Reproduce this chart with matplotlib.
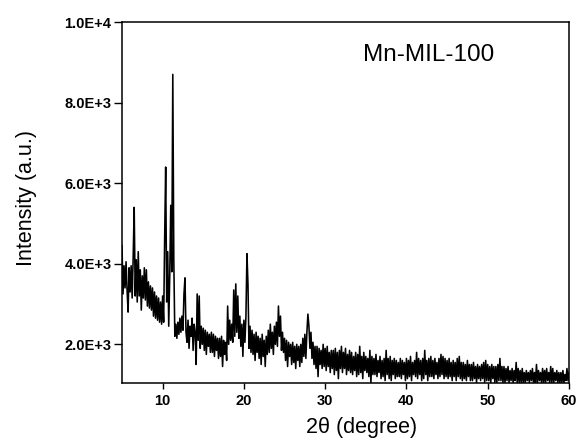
import numpy as np
import matplotlib
matplotlib.use("Agg")
import matplotlib.pyplot as plt

plt.rcParams['font.family'] = ['Liberation Sans', 'DejaVu Sans']

# 2-theta sampling grid (degrees) and intensities
two_theta_start = 5.0
two_theta_step = 0.125
intensity = [
    # 5
    4450, 3250, 3950, 3400, 4050, 3350, 2800, 3900,
    # 6
    3300, 3950, 3150, 4150, 5400, 3200, 4100, 3050,
    # 7
    4300, 3200, 3850, 2850, 3700, 3150, 3900, 3100,
    # 8
    3850, 2950, 3550, 2900, 3450, 2850, 3400, 2700,
    # 9
    3300, 2650, 3200, 2600, 3150, 2550, 3050, 2500,
    # 10
    3200, 2550, 4650, 6400, 3050, 4300, 2450, 3700,
    # 11
    5450, 3800, 8700, 4100, 2200, 2500, 2150, 2550,
    # 12
    2250, 2650, 2300, 2700, 2350, 3250, 3650, 2300,
    # 13
    2050, 2600, 1900, 2450, 2200, 2650, 1850, 2500,
    # 14
    2300, 1500, 3250, 2100, 3200, 1900, 2450, 2000,
    # 15
    2400, 1850, 2350, 1750, 2300, 1950, 2250, 1800,
    # 16
    2300, 1800, 2250, 1700, 2200, 1850, 2150, 1650,
    # 17
    2150, 1700, 2200, 1450, 2100, 1750, 2050, 1600,
    # 18
    2950, 2000, 2600, 2100, 2500, 2050, 3350, 2200,
    # 19
    3500, 2300, 3200, 2150, 2700, 1950, 2500, 1700,
    # 20
    2600, 2050, 2700, 4250, 3500, 1900, 2450, 1800,
    # 21
    2350, 1750, 2250, 1600, 2300, 1800, 2200, 1650,
    # 22
    2150, 1500, 2250, 1700, 2100, 1450, 2200, 1750,
    # 23
    2350, 1800, 2500, 1900, 2300, 1750, 2450, 2000,
    # 24
    2550, 1950, 2950, 2200, 2700, 1850, 2300, 1800,
    # 25
    2150, 1600, 2100, 1450, 2050, 1700, 2000, 1500,
    # 26
    2050, 1550, 1950, 1400, 2000, 1600, 1950, 1450,
    # 27
    2000, 1550, 2150, 1700, 2250, 1650, 2300, 2750,
    # 28
    2450, 1900, 2300, 1650, 2050, 1500, 1950, 1400,
    # 29
    1950, 1200, 1900, 1500, 1850, 1400, 2000, 1450,
    # 30
    1900, 1350, 1950, 1450, 1800, 1300, 1850, 1400,
    # 31
    1850, 1250, 1900, 1350, 1800, 1150, 1850, 1400,
    # 32
    1950, 1300, 1800, 1400, 1900, 1250, 1750, 1350,
    # 33
    1850, 1300, 1800, 1250, 1700, 1350, 1800, 1200,
    # 34
    1750, 1250, 1950, 1300, 1700, 1150, 1800, 1350,
    # 35
    1700, 1300, 1650, 1200, 1850, 1050, 1700, 1250,
    # 36
    1650, 1250, 1750, 1200, 1600, 1300, 1700, 1150,
    # 37
    1600, 1200, 1650, 1100, 1850, 1250, 1650, 1150,
    # 38
    1700, 1100, 1600, 1250, 1650, 1150, 1600, 1200,
    # 39
    1550, 1200, 1650, 1150, 1600, 1250, 1550, 1100,
    # 40
    1650, 1150, 1600, 1200, 1700, 1100, 1550, 1250,
    # 41
    1600, 1200, 1800, 1150, 1650, 1250, 1600, 1100,
    # 42
    1650, 1150, 1850, 1250, 1600, 1100, 1650, 1200,
    # 43
    1700, 1200, 1600, 1150, 1650, 1250, 1550, 1150,
    # 44
    1650, 1200, 1750, 1250, 1700, 1150, 1650, 1200,
    # 45
    1600, 1150, 1650, 1200, 1550, 1100, 1600, 1200,
    # 46
    1550, 1100, 1650, 1200, 1700, 1150, 1550, 1100,
    # 47
    1550, 1150, 1500, 1100, 1600, 1200, 1500, 1100,
    # 48
    1500, 1100, 1550, 1150, 1450, 1050, 1500, 1150,
    # 49
    1450, 1100, 1500, 1150, 1550, 1050, 1600, 1100,
    # 50
    1500, 1100, 1450, 1050, 1500, 1150, 1450, 1050,
    # 51
    1450, 1050, 1500, 1100, 1650, 1100, 1450, 1050,
    # 52
    1450, 1050, 1400, 1100, 1450, 1050, 1350, 1100,
    # 53
    1400, 1050, 1350, 1100, 1550, 1050, 1400, 1050,
    # 54
    1350, 1050, 1400, 1050, 1300, 1050, 1350, 1100,
    # 55
    1300, 1050, 1350, 1100, 1400, 1050, 1300, 1050,
    # 56
    1500, 1050, 1350, 1100, 1300, 1050, 1400, 1050,
    # 57
    1350, 1050, 1400, 1100, 1300, 1050, 1450, 1050,
    # 58
    1400, 1050, 1300, 1100, 1350, 1050, 1300, 1050,
    # 59
    1300, 1050, 1350, 1050, 1250, 1100, 1400, 1100,
    # 60
    1300,
]
two_theta = two_theta_start + two_theta_step * np.arange(len(intensity))

x_ticks = [10, 20, 30, 40, 50, 60]
y_ticks = [2000, 4000, 6000, 8000, 10000]
y_tick_labels = ["2.0E+3", "4.0E+3", "6.0E+3", "8.0E+3", "1.0E+4"]
sample_name = "Mn-MIL-100"

fig = plt.figure(figsize=(5.84, 4.40), dpi=100)
ax = fig.add_axes([0.2089, 0.1295, 0.7654, 0.8205])
ax.plot(two_theta, intensity, color='black', linewidth=1.15)

ax.set_xlim(5, 60)
ax.set_ylim(1040, 10000)
ax.set_xticks(x_ticks)
ax.set_xticklabels([str(t) for t in x_ticks], fontsize=10.5, fontweight='bold')
ax.set_yticks(y_ticks)
ax.set_yticklabels(y_tick_labels, fontsize=10.5, fontweight='bold')
ax.tick_params(axis='x', direction='out', length=4, width=1, pad=4)
ax.tick_params(axis='y', direction='out', length=5.5, width=1, pad=2)
for s in ax.spines.values():
    s.set_linewidth(1.1)

ax.set_xlabel("2θ (degree)", fontsize=15.5)
ax.xaxis.set_label_coords(0.536, -0.095)
ax.set_ylabel("Intensity (a.u.)", fontsize=15.5)
ax.yaxis.set_label_coords(-0.19, 0.512)
ax.text(0.687, 0.909, sample_name, transform=ax.transAxes, fontsize=17.5,
        ha='center', va='center')

fig.savefig("out.png", dpi=100)
